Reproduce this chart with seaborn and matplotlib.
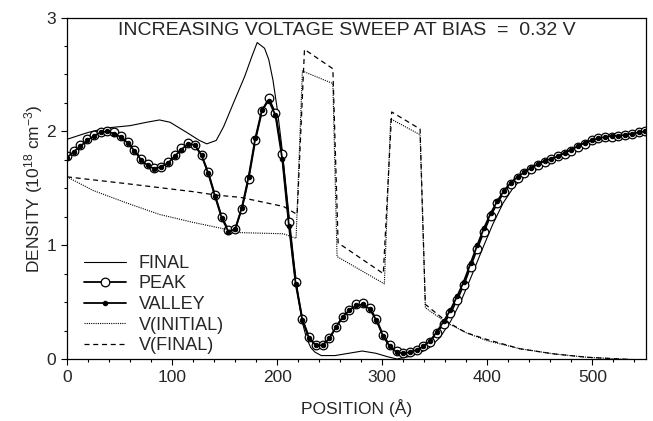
import matplotlib
matplotlib.use("Agg")
import matplotlib.pyplot as plt
from matplotlib.ticker import MultipleLocator
import pandas as pd
import seaborn as sns

# positions of the computed mesh points (Angstrom)
pos = [0, 6.4, 12.8, 19.2, 25.6, 32, 38.4, 44.8, 51.2, 57.6, 64, 70.4, 76.8, 83.2,
       89.6, 96, 102.4, 108.8, 115.2, 121.6, 128, 134.4, 140.8, 147.2, 153.6, 160,
       166.4, 172.8, 179.2, 185.6, 192, 198.4, 204.8, 211.2, 217.6, 224, 230.4,
       236.8, 243.2, 249.6, 256, 262.4, 268.8, 275.2, 281.6, 288, 294.4, 300.8,
       307.2, 313.6, 320, 326.4, 332.8, 339.2, 345.6, 352, 358.4, 364.8, 371.2,
       377.6, 384, 390.4, 396.8, 403.2, 409.6, 416, 422.4, 428.8, 435.2, 441.6,
       448, 454.4, 460.8, 467.2, 473.6, 480, 486.4, 492.8, 499.2, 505.6, 512,
       518.4, 524.8, 531.2, 537.6, 544, 550]

peak = [1.78, 1.83, 1.88, 1.93, 1.97, 1.99, 2.00, 1.99, 1.96, 1.91, 1.84, 1.76,
        1.71, 1.68, 1.69, 1.73, 1.79, 1.85, 1.90, 1.88, 1.79, 1.64, 1.44, 1.25,
        1.13, 1.14, 1.32, 1.58, 1.92, 2.18, 2.29, 2.16, 1.80, 1.20, 0.68, 0.35,
        0.19, 0.12, 0.12, 0.18, 0.28, 0.37, 0.43, 0.48, 0.49, 0.45, 0.35, 0.21,
        0.12, 0.07, 0.05, 0.06, 0.08, 0.11, 0.15, 0.23, 0.31, 0.40, 0.52, 0.65,
        0.81, 0.97, 1.12, 1.26, 1.37, 1.47, 1.54, 1.59, 1.63, 1.67, 1.70, 1.73,
        1.76, 1.78, 1.80, 1.83, 1.86, 1.89, 1.92, 1.94, 1.95, 1.95, 1.96, 1.97,
        1.98, 1.99, 2.00]

valley = [1.77, 1.82, 1.87, 1.92, 1.96, 1.99, 2.00, 1.98, 1.95, 1.90, 1.83, 1.75,
          1.70, 1.67, 1.69, 1.72, 1.78, 1.84, 1.89, 1.88, 1.79, 1.63, 1.43, 1.24,
          1.12, 1.14, 1.33, 1.60, 1.94, 2.19, 2.27, 2.14, 1.76, 1.17, 0.66, 0.34,
          0.18, 0.12, 0.12, 0.18, 0.28, 0.37, 0.43, 0.47, 0.48, 0.44, 0.34, 0.20,
          0.11, 0.06, 0.05, 0.06, 0.08, 0.11, 0.16, 0.24, 0.33, 0.43, 0.55, 0.68,
          0.84, 1.00, 1.15, 1.28, 1.39, 1.48, 1.55, 1.60, 1.64, 1.68, 1.71, 1.74,
          1.76, 1.78, 1.81, 1.84, 1.87, 1.90, 1.92, 1.94, 1.95, 1.96, 1.96, 1.97,
          1.98, 1.99, 2.00]

final_x = [0, 20, 38, 60, 76, 88, 98, 114, 126, 133, 142, 149, 158, 169, 176, 181,
           188, 192, 196, 200, 204, 208, 212, 216, 220, 224, 228, 232, 236, 242,
           255, 268, 281, 294, 305, 314, 325, 335, 345, 355, 365, 375, 385, 395,
           405, 415, 425, 435, 450, 470, 490, 510, 530, 550]
final_y = [1.93, 1.99, 2.03, 2.05, 2.08, 2.10, 2.08, 1.99, 1.92, 1.89, 1.92, 2.04,
           2.24, 2.48, 2.66, 2.78, 2.73, 2.63, 2.45, 2.20, 1.90, 1.55, 1.20, 0.85,
           0.55, 0.32, 0.18, 0.10, 0.06, 0.03, 0.03, 0.05, 0.07, 0.05, 0.02, 0.0,
           0.02, 0.05, 0.10, 0.19, 0.33, 0.51, 0.73, 0.96, 1.18, 1.37, 1.51, 1.60,
           1.68, 1.78, 1.87, 1.94, 1.97, 2.00]

vinit_x = [0, 25, 57, 88, 120, 146, 165, 206, 218, 224, 253, 257, 302, 308, 336,
           341, 361, 380, 400, 431, 463, 495, 526, 550]
vinit_y = [1.60, 1.48, 1.37, 1.27, 1.20, 1.15, 1.11, 1.10, 1.06, 2.53, 2.42, 0.90,
           0.66, 2.11, 1.97, 0.45, 0.32, 0.23, 0.16, 0.09, 0.045, 0.015, 0.0, -0.01]

vfin_x = [0, 57, 120, 142, 165, 206, 219, 226, 253, 258, 301, 309, 336, 341, 361,
          380, 400, 431, 463, 495, 526, 550]
vfin_y = [1.60, 1.54, 1.47, 1.44, 1.42, 1.34, 1.27, 2.72, 2.55, 1.02, 0.75, 2.17,
          2.02, 0.48, 0.33, 0.23, 0.17, 0.09, 0.045, 0.015, 0.0, -0.01]

title = "INCREASING VOLTAGE SWEEP AT BIAS  =  0.32 V"

sns.set_theme(style="white")
plt.rcParams['font.family'] = ['Liberation Sans', 'DejaVu Sans']
plt.rcParams['mathtext.default'] = 'regular'

fig = plt.figure(figsize=(6.53, 4.21), dpi=100)
ax = fig.add_axes([0.1026, 0.1473, 0.8867, 0.8111])

df_pv = pd.DataFrame({"pos": pos, "peak": peak, "valley": valley})

sns.lineplot(x=final_x, y=final_y, ax=ax, color="black", lw=0.8,
             estimator=None, sort=False, label="FINAL")
sns.lineplot(data=df_pv, x="pos", y="peak", ax=ax, color="black", lw=1.3,
             marker="o", markersize=6.2, markerfacecolor="white",
             markeredgecolor="black", markeredgewidth=0.9,
             estimator=None, sort=False, label="PEAK")
sns.lineplot(data=df_pv, x="pos", y="valley", ax=ax, color="black", lw=1.3,
             marker="o", markersize=3.2, markerfacecolor="black",
             markeredgecolor="black", estimator=None, sort=False, label="VALLEY")
sns.lineplot(x=vinit_x, y=vinit_y, ax=ax, color="black", lw=0.8,
             linestyle=(0, (1, 1)), estimator=None, sort=False, label="V(INITIAL)")
sns.lineplot(x=vfin_x, y=vfin_y, ax=ax, color="black", lw=0.9,
             linestyle=(0, (4, 3)), estimator=None, sort=False, label="V(FINAL)")

ax.set_xlim(0, 551)
ax.set_ylim(0, 3)
ax.xaxis.set_major_locator(MultipleLocator(100))
ax.xaxis.set_minor_locator(MultipleLocator(20))
ax.yaxis.set_major_locator(MultipleLocator(1))
ax.yaxis.set_minor_locator(MultipleLocator(0.25))
ax.tick_params(which="both", direction="out", color="black", width=0.8,
               labelsize=12.5, bottom=True, left=True)
ax.tick_params(which="major", length=4, pad=4)
ax.tick_params(which="minor", length=2.5)
for s in ax.spines.values():
    s.set_color("black")
    s.set_linewidth(0.9)

ax.set_xlabel("POSITION (Å)", fontsize=12.5, labelpad=10)
ax.set_ylabel("DENSITY (10$^{18}$ cm$^{-3}$)", fontsize=12.5, labelpad=1)

ax.text(266, 2.89, title, ha="center", va="center", fontsize=14)

ax.legend(loc="upper left", bbox_to_anchor=(0.03, 0.305), frameon=False,
          fontsize=13, handlelength=2.3, handletextpad=0.7, labelspacing=0.2,
          borderpad=0, borderaxespad=0)

fig.savefig("out.png", dpi=100, facecolor="white")
